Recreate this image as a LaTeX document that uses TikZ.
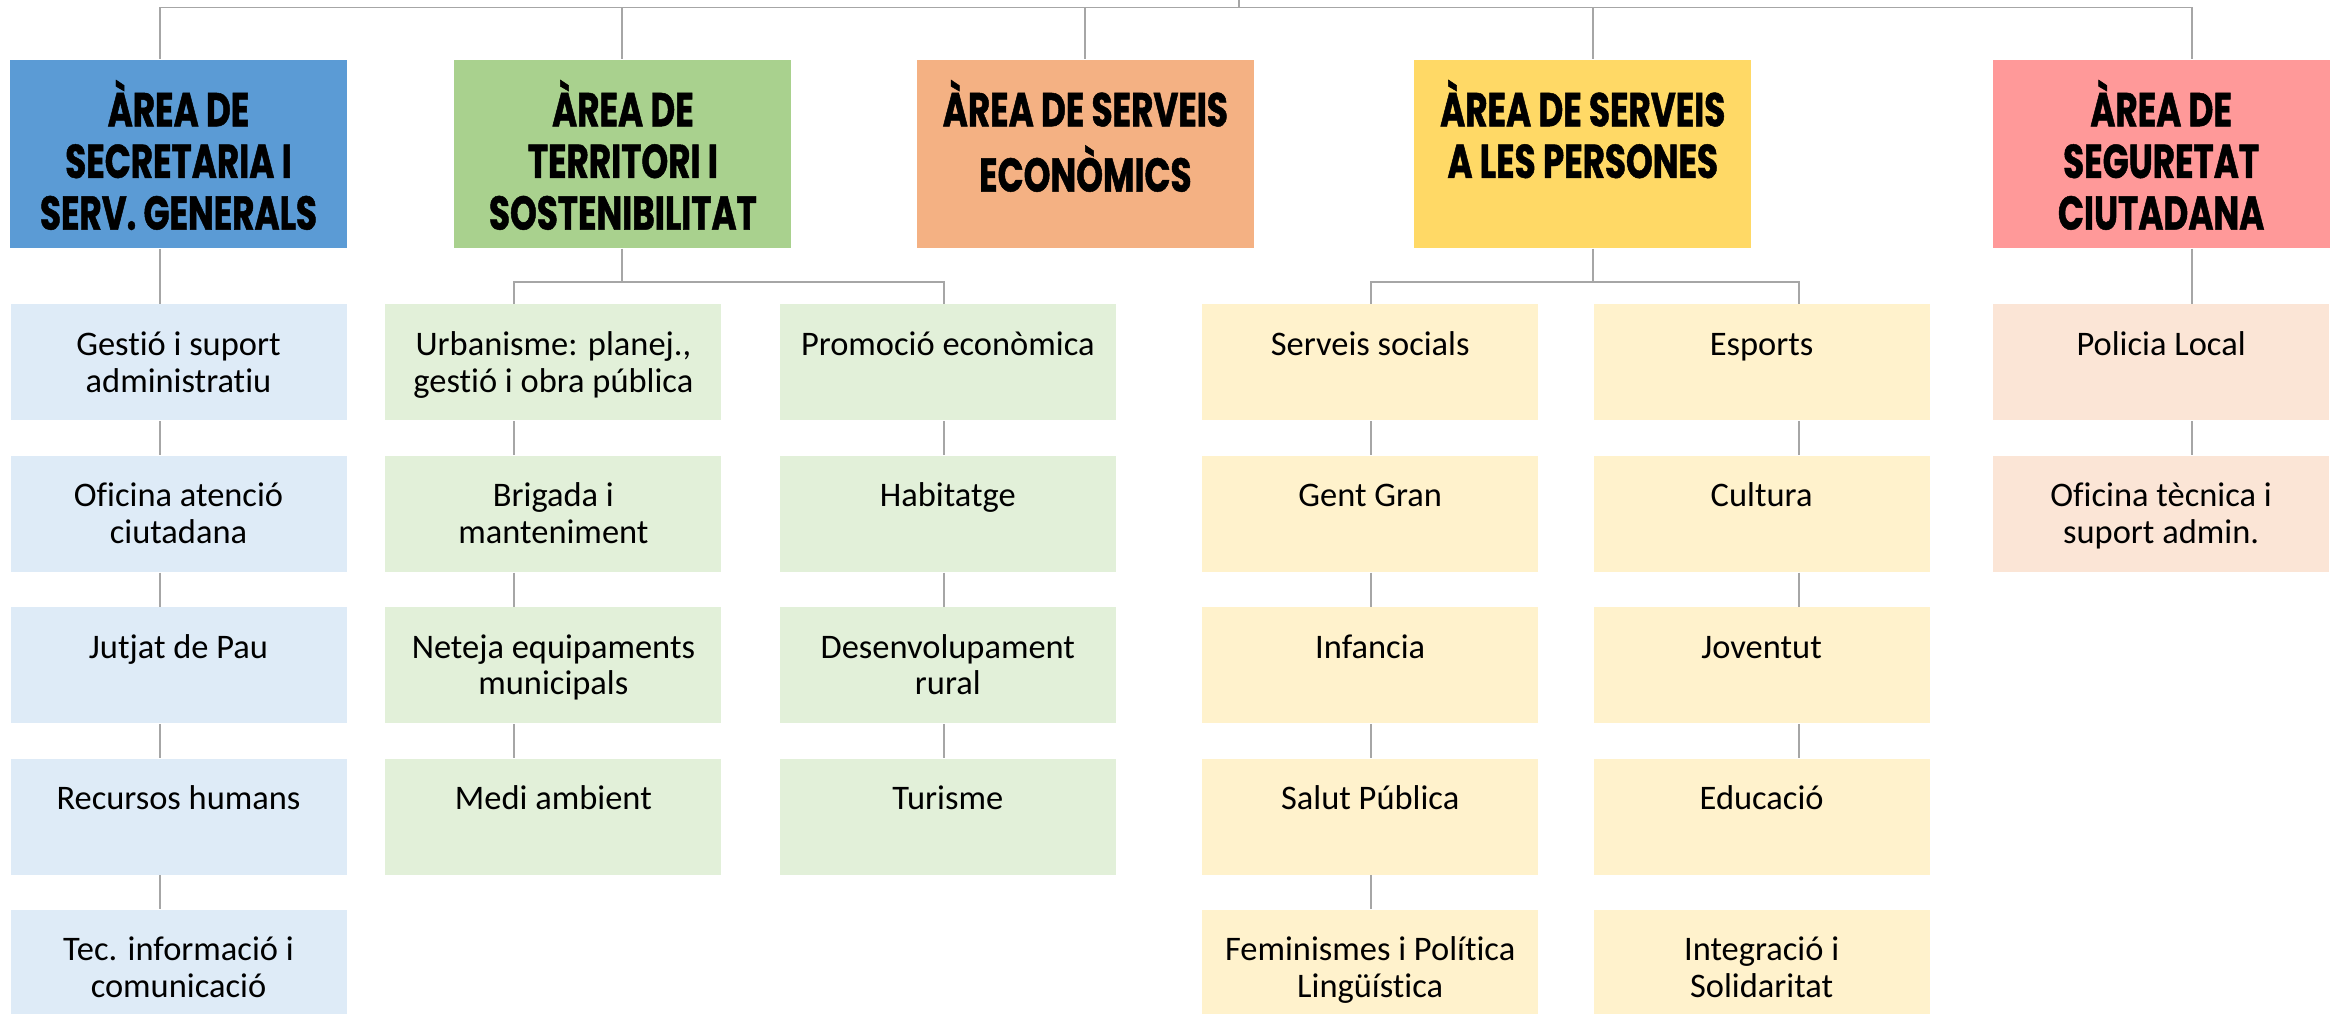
\documentclass[tikz,border=0pt]{standalone}
\usepackage{fontspec}
\setmainfont{Carlito}[Ligatures={NoCommon}]
\newfontfamily\areafont{Poppins}[FakeStretch=0.72,BoldFeatures={FakeBold=1}]
\usetikzlibrary{positioning}
\definecolor{secblue}{HTML}{5B9BD5}
\definecolor{tergreen}{HTML}{A9D18E}
\definecolor{ecoorange}{HTML}{F4B183}
\definecolor{peryellow}{HTML}{FFD966}
\definecolor{segred}{HTML}{FF9999}
\definecolor{secpale}{HTML}{DEEBF7}
\definecolor{terpale}{HTML}{E2F0D9}
\definecolor{perpale}{HTML}{FFF2CC}
\definecolor{segpale}{HTML}{FBE5D6}
\definecolor{linegray}{HTML}{A6A6A6}
\newcommand{\arealbl}[1]{\parbox[c][1.48cm][t]{3.3cm}{\centering\strut #1}}
\newcommand{\unitlbl}[1]{\parbox[c][0.66cm][t]{3.3cm}{\centering\strut #1}}

\begin{document}
\begin{tikzpicture}[node distance=0.34cm,
	area/.style={fill=#1,minimum width=3.37cm,minimum height=1.88cm,inner sep=0pt,font=\areafont\bfseries\fontsize{13.5pt}{14.7pt}\selectfont},
	unit/.style={fill=#1,minimum width=3.36cm,minimum height=1.16cm,inner sep=0pt,font=\fontsize{9.8pt}{10.5pt}\selectfont},
	link/.style={draw=linegray,line width=0.45pt}]
		\useasboundingbox (0,0) rectangle (23.43,-10.14);

		\node[area=secblue] (sec) at (1.785,-1.54) {\arealbl{ÀREA DE\\SECRETARIA I\\SERV. GENERALS}};
		\node[area=tergreen] (ter) [right=1.06cm of sec] {\arealbl{ÀREA DE\\TERRITORI I\\SOSTENIBILITAT}};
		\node[area=ecoorange] (eco) [right=1.24cm of ter] {\arealbl{ÀREA DE SERVEIS\\ECONÒMICS}};
		\node[area=peryellow] (per) [right=1.59cm of eco] {\arealbl{ÀREA DE SERVEIS\\A LES PERSONES}};
		\node[area=segred] (seg) [right=2.40cm of per] {\arealbl{ÀREA DE\\SEGURETAT\\CIUTADANA}};

		\node[unit=secpale] (sec1) [below=0.55cm of sec] {\unitlbl{Gestió i suport\\administratiu}};
		\node[unit=secpale] (sec2) [below=of sec1] {\unitlbl{Oficina atenció\\ciutadana}};
		\node[unit=secpale] (sec3) [below=of sec2] {\unitlbl{Jutjat de Pau}};
		\node[unit=secpale] (sec4) [below=of sec3] {\unitlbl{Recursos humans}};
		\node[unit=secpale] (sec5) [below=of sec4] {\unitlbl{Tec. informació i\\comunicació}};

		\node[unit=terpale] (ter1) [below=0.55cm of ter,xshift=-0.695cm] {\unitlbl{Urbanisme: planej.,\\gestió i obra pública}};
		\node[unit=terpale] (ter2) [below=of ter1] {\unitlbl{Brigada i\\manteniment}};
		\node[unit=terpale] (ter3) [below=of ter2] {\unitlbl{Neteja equipaments\\municipals}};
		\node[unit=terpale] (ter4) [below=of ter3] {\unitlbl{Medi ambient}};

		\node[unit=terpale] (pro1) [right=0.57cm of ter1] {\unitlbl{Promoció econòmica}};
		\node[unit=terpale] (pro2) [below=of pro1] {\unitlbl{Habitatge}};
		\node[unit=terpale] (pro3) [below=of pro2] {\unitlbl{Desenvolupament\\rural}};
		\node[unit=terpale] (pro4) [below=of pro3] {\unitlbl{Turisme}};

		\node[unit=perpale] (per1) [below=0.55cm of per,xshift=-2.125cm] {\unitlbl{Serveis socials}};
		\node[unit=perpale] (per2) [below=of per1] {\unitlbl{Gent Gran}};
		\node[unit=perpale] (per3) [below=of per2] {\unitlbl{Infancia}};
		\node[unit=perpale] (per4) [below=of per3] {\unitlbl{Salut Pública}};
		\node[unit=perpale] (per5) [below=of per4] {\unitlbl{Feminismes i Política\\Lingüística}};

		\node[unit=perpale] (cul1) [right=0.54cm of per1] {\unitlbl{Esports}};
		\node[unit=perpale] (cul2) [below=of cul1] {\unitlbl{Cultura}};
		\node[unit=perpale] (cul3) [below=of cul2] {\unitlbl{Joventut}};
		\node[unit=perpale] (cul4) [below=of cul3] {\unitlbl{Educació}};
		\node[unit=perpale] (cul5) [below=of cul4] {\unitlbl{Integració i\\Solidaritat}};

		\node[unit=segpale] (seg1) [below=0.55cm of seg] {\unitlbl{Policia Local}};
		\node[unit=segpale] (seg2) [below=of seg1] {\unitlbl{Oficina tècnica i\\suport admin.}};

		\coordinate (root) at (12.39,0.2);
		\coordinate (hsec) at (1.60,-0.075);
		\coordinate (hter) at (6.22,-0.075);
		\coordinate (heco) at (10.85,-0.075);
		\coordinate (hper) at (15.93,-0.075);
		\coordinate (hseg) at (21.92,-0.075);
		\coordinate (kter) at (5.14,0);
		\coordinate (kpro) at (9.44,0);
		\coordinate (kper) at (13.71,0);
		\coordinate (kcul) at (17.99,0);
		\coordinate (bter) at (6.22,-2.82);
		\coordinate (bper) at (15.93,-2.82);

		\draw[link] (root) -- (root |- hsec);
		\draw[link] (hsec) -- (hseg);
		\foreach \h/\a in {hsec/sec,hter/ter,heco/eco,hper/per,hseg/seg}
			\draw[link] (\h) -- (\h |- \a.north);

		\draw[link] (ter.south -| bter) -- (bter);
		\draw[link] (ter1.north -| kter) |- (bter) -| (pro1.north -| kpro);
		\draw[link] (per.south -| bper) -- (bper);
		\draw[link] (per1.north -| kper) |- (bper) -| (cul1.north -| kcul);
		\draw[link] (sec.south -| hsec) -- (sec1.north -| hsec);
		\draw[link] (seg.south -| hseg) -- (seg1.north -| hseg);

		\foreach \a/\b/\k in {sec1/sec2/hsec,sec2/sec3/hsec,sec3/sec4/hsec,sec4/sec5/hsec,
			ter1/ter2/kter,ter2/ter3/kter,ter3/ter4/kter,
			pro1/pro2/kpro,pro2/pro3/kpro,pro3/pro4/kpro,
			per1/per2/kper,per2/per3/kper,per3/per4/kper,per4/per5/kper,
			cul1/cul2/kcul,cul2/cul3/kcul,cul3/cul4/kcul,
			seg1/seg2/hseg}
			\draw[link] (\a.south -| \k) -- (\b.north -| \k);
\end{tikzpicture}
\end{document}
